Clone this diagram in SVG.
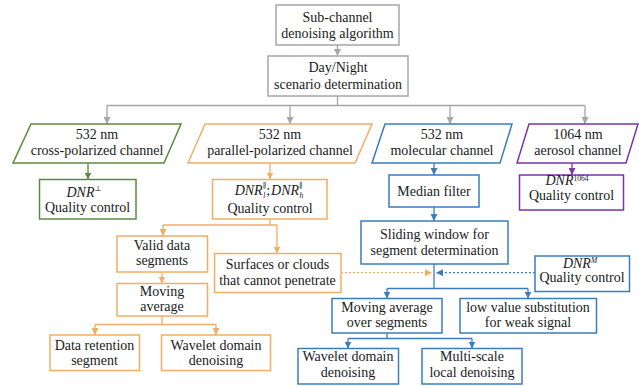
<svg xmlns="http://www.w3.org/2000/svg" width="639" height="386" viewBox="0 0 639 386">
<defs>
<style>
text{font-family:Liberation Serif,DejaVu Serif,serif;font-size:14px;fill:#1a1a1a;text-anchor:middle}
.it{font-style:italic}
.s{font-size:7.5px}
.n{fill:#fff;stroke-width:1.5}
.gray{stroke:#a6a6a6}
.green{stroke:#5b8a3c}
.orange{stroke:#f2ad66}
.blue{stroke:#3b7cc0}
.purple{stroke:#7a35a8}
.c{fill:none;stroke-width:1.3}
.d{stroke-dasharray:2 2}
</style>
<marker id="ag" viewBox="0 0 10 10" refX="10" refY="5" markerWidth="7" markerHeight="7" markerUnits="userSpaceOnUse" orient="auto"><path d="M0,0L10,5L0,10z" fill="#a6a6a6"/></marker>
<marker id="agr" viewBox="0 0 10 10" refX="10" refY="5" markerWidth="7" markerHeight="7" markerUnits="userSpaceOnUse" orient="auto"><path d="M0,0L10,5L0,10z" fill="#5b8a3c"/></marker>
<marker id="ao" viewBox="0 0 10 10" refX="10" refY="5" markerWidth="7" markerHeight="7" markerUnits="userSpaceOnUse" orient="auto"><path d="M0,0L10,5L0,10z" fill="#f2ad66"/></marker>
<marker id="ab" viewBox="0 0 10 10" refX="10" refY="5" markerWidth="7" markerHeight="7" markerUnits="userSpaceOnUse" orient="auto"><path d="M0,0L10,5L0,10z" fill="#3b7cc0"/></marker>
<marker id="ap" viewBox="0 0 10 10" refX="10" refY="5" markerWidth="7" markerHeight="7" markerUnits="userSpaceOnUse" orient="auto"><path d="M0,0L10,5L0,10z" fill="#7a35a8"/></marker>
</defs>
<rect width="639" height="386" fill="#fff"/>

<g id="connectors">
<path class="c gray" d="M337.5,45V56" marker-end="url(#ag)"/>
<path class="c gray" d="M337.5,96V105.5M107,105.5H585"/>
<path class="c gray" d="M107,105.5V124" marker-end="url(#ag)"/>
<path class="c gray" d="M290,105.5V124" marker-end="url(#ag)"/>
<path class="c gray" d="M450,105.5V124" marker-end="url(#ag)"/>
<path class="c gray" d="M585,105.5V124" marker-end="url(#ag)"/>
<path class="c green" d="M88,163V179.5" marker-end="url(#agr)"/>
<path class="c orange" d="M270,163V179.5" marker-end="url(#ao)"/>
<path class="c orange" d="M270,219V225M163,225H277"/>
<path class="c orange" d="M163,225V236" marker-end="url(#ao)"/>
<path class="c orange" d="M277,225V253.5" marker-end="url(#ao)"/>
<path class="c orange" d="M162,272V283.5" marker-end="url(#ao)"/>
<path class="c orange" d="M162,316V324.5M95,324.5H216"/>
<path class="c orange" d="M95,324.5V335" marker-end="url(#ao)"/>
<path class="c orange" d="M216,324.5V335" marker-end="url(#ao)"/>
<path class="c blue" d="M434,163V175" marker-end="url(#ab)"/>
<path class="c blue" d="M434,207V221" marker-end="url(#ab)"/>
<path class="c blue" d="M434,264V288.5M387,288.5H528"/>
<path class="c blue" d="M387,288.5V298.5" marker-end="url(#ab)"/>
<path class="c blue" d="M528,288.5V298.5" marker-end="url(#ab)"/>
<path class="c blue" d="M387,333V338.5M348,338.5H472"/>
<path class="c blue" d="M348,338.5V348.5" marker-end="url(#ab)"/>
<path class="c blue" d="M472,338.5V348.5" marker-end="url(#ab)"/>
<path class="c purple" d="M572,163V175" marker-end="url(#ap)"/>
<path class="c orange d" d="M341,272.7H432" marker-end="url(#ao)"/>
<path class="c blue d" d="M535,272.7H436" marker-end="url(#ab)"/>
</g>

<g id="n-start"><rect class="n gray" x="276" y="5" width="123" height="40"/><text x="337.5" y="21.5">Sub-channel</text><text x="337.5" y="38">denoising algorithm</text></g>
<g id="n-daynight"><rect class="n gray" x="268" y="56" width="140" height="40"/><text x="338" y="72">Day/Night</text><text x="338" y="88.5">scenario determination</text></g>

<g id="n-cross"><polygon class="n green" points="31,124 181,124 164,163 13,163"/><text x="97" y="138.5">532 nm</text><text x="97" y="155">cross-polarized channel</text></g>
<g id="n-parallel"><polygon class="n orange" points="205,124 372,124 355,163 188,163"/><text x="280" y="138.5">532 nm</text><text x="280" y="155">parallel-polarized channel</text></g>
<g id="n-molecular"><polygon class="n blue" points="385,124 512,124 500,163 372,163"/><text x="442" y="138.5">532 nm</text><text x="442" y="155">molecular channel</text></g>
<g id="n-aerosol"><polygon class="n purple" points="529,124 638,124 626,163 517,163"/><text x="578" y="138.5">1064 nm</text><text x="578" y="155">aerosol channel</text></g>

<g id="n-dnr-cross"><rect class="n green" x="39.5" y="179.5" width="96.5" height="39.5"/><text x="84" y="196.5"><tspan class="it">DNR</tspan><tspan class="s" dy="-6">⊥</tspan></text><text x="87.5" y="211.5">Quality control</text></g>
<g id="n-dnr-par"><rect class="n orange" x="212.5" y="179.5" width="114.5" height="39.5"/>
<text x="269" y="194.5"><tspan class="it">DNR</tspan><tspan class="s" dy="-6.5">∥</tspan><tspan class="s it" dx="-3" dy="10">l</tspan><tspan dx="1" dy="-3.5">;</tspan><tspan class="it" dx="1">DNR</tspan><tspan class="s" dy="-6.5">∥</tspan><tspan class="s it" dx="-3" dy="10">h</tspan></text>
<text x="270" y="212.5">Quality control</text></g>
<g id="n-median"><rect class="n blue" x="389" y="175" width="90" height="32"/><text x="434" y="195.5">Median filter</text></g>
<g id="n-dnr-1064"><rect class="n purple" x="519.5" y="175" width="104" height="35"/><text x="567" y="185"><tspan class="it">DNR</tspan><tspan class="s" dy="-4">1064</tspan></text><text x="571.5" y="199.5">Quality control</text></g>

<g id="n-sliding"><rect class="n blue" x="361" y="221" width="147" height="43"/><text x="434.5" y="238.5">Sliding window for</text><text x="434.5" y="255">segment determination</text></g>
<g id="n-valid"><rect class="n orange" x="117" y="236" width="90.5" height="36"/><text x="162" y="249.5">Valid data</text><text x="162" y="265">segments</text></g>
<g id="n-surfaces"><rect class="n orange" x="214.5" y="253.5" width="126.5" height="39"/><text x="277.5" y="268.5">Surfaces or clouds</text><text x="277.5" y="285">that cannot penetrate</text></g>
<g id="n-dnr-m"><rect class="n blue" x="535" y="256" width="94.5" height="35.5"/><text x="580" y="267.5"><tspan class="it">DNR</tspan><tspan class="s it" dy="-5">M</tspan></text><text x="582" y="282">Quality control</text></g>
<g id="n-moving"><rect class="n orange" x="117" y="283.5" width="90.5" height="32.5"/><text x="162" y="295.5">Moving</text><text x="162" y="311">average</text></g>
<g id="n-mavg-seg"><rect class="n blue" x="332" y="298.5" width="110" height="34.5"/><text x="387" y="312">Moving average</text><text x="387" y="327">over segments</text></g>
<g id="n-lowvalue"><rect class="n blue" x="460" y="298.5" width="136.5" height="34.5"/><text x="528" y="312">low value substitution</text><text x="528" y="327">for weak signal</text></g>
<g id="n-retention"><rect class="n orange" x="50" y="335" width="89.5" height="35.5"/><text x="94.5" y="349.5">Data retention</text><text x="94.5" y="365">segment</text></g>
<g id="n-wavelet-o"><rect class="n orange" x="161.5" y="335" width="109" height="35.5"/><text x="216" y="349.5">Wavelet domain</text><text x="216" y="365">denoising</text></g>
<g id="n-wavelet-b"><rect class="n blue" x="298" y="348.5" width="100.5" height="35.5"/><text x="348" y="361">Wavelet domain</text><text x="348" y="377">denoising</text></g>
<g id="n-multiscale"><rect class="n blue" x="422" y="348.5" width="100" height="35.5"/><text x="472" y="361">Multi-scale</text><text x="472" y="377">local denoising</text></g>
</svg>
